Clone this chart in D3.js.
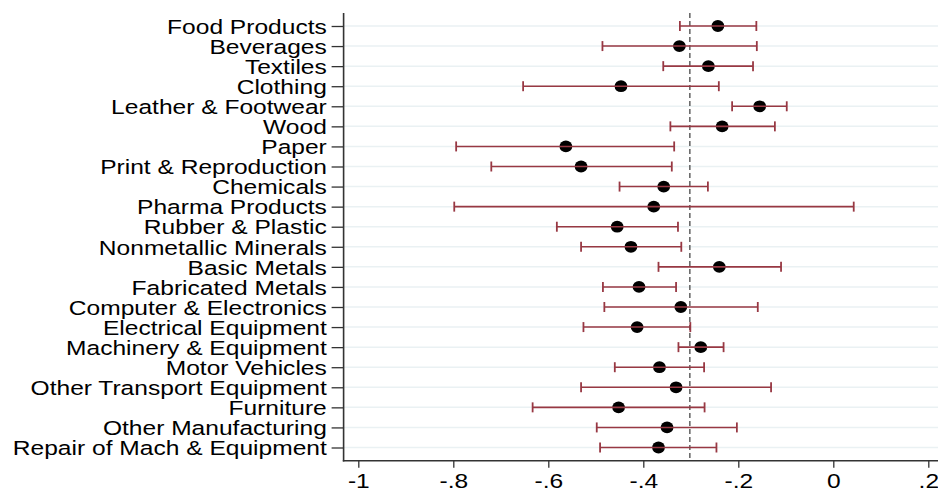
<!DOCTYPE html>
<html>
<head>
<meta charset="utf-8">
<script src="https://cdn.jsdelivr.net/npm/d3@7"></script>
<style>
	body { margin: 0; background: #fff; }
	svg { display: block; }
</style>
</head>
<body>
<div id="chart"></div>
<script>
var industries = [
	'Food Products', 'Beverages', 'Textiles', 'Clothing', 'Leather & Footwear',
	'Wood', 'Paper', 'Print & Reproduction', 'Chemicals', 'Pharma Products',
	'Rubber & Plastic', 'Nonmetallic Minerals', 'Basic Metals', 'Fabricated Metals',
	'Computer & Electronics', 'Electrical Equipment', 'Machinery & Equipment',
	'Motor Vehicles', 'Other Transport Equipment', 'Furniture',
	'Other Manufacturing', 'Repair of Mach & Equipment'
];
var estimate = [-0.243, -0.324, -0.263, -0.447, -0.155, -0.234, -0.563, -0.531, -0.357, -0.378, -0.455,
	-0.426, -0.240, -0.409, -0.321, -0.413, -0.279, -0.366, -0.331, -0.452, -0.350, -0.368];
var lower = [-0.323, -0.486, -0.358, -0.653, -0.213, -0.343, -0.794, -0.720, -0.450, -0.798, -0.582,
	-0.531, -0.368, -0.485, -0.482, -0.526, -0.326, -0.460, -0.531, -0.633, -0.498, -0.491];
var upper = [-0.162, -0.161, -0.169, -0.241, -0.098, -0.123, -0.335, -0.340, -0.264, 0.043, -0.327,
	-0.320, -0.110, -0.331, -0.159, -0.301, -0.231, -0.272, -0.131, -0.271, -0.203, -0.246];
var refLine = -0.302;
var xTicks = [-1, -0.8, -0.6, -0.4, -0.2, 0, 0.2];

var width = 938, height = 489;
var plotLeft = 343.6, plotRight = 938, plotTop = 13, plotBottom = 460.7;
var stretch = 1.26; // text in the original is a bit wider than tall
var fontSize = '19.5px';
var fontFamily = '"Liberation Sans", Arial, Helvetica, sans-serif';
var barColor = '#983843';

var svg = d3.select('#chart').append('svg')
	.attr('width', width)
	.attr('height', height);

var x = d3.scaleLinear().domain([-1, 0.2]).range([358.3, 928.3]);
var y = d3.scalePoint().domain(industries).range([26, 447.5]);

/* grid lines */
svg.append('g')
	.selectAll('line')
	.data(industries)
	.enter().append('line')
	.attr('x1', plotLeft)
	.attr('x2', plotRight)
	.attr('y1', function(d) { return y(d); })
	.attr('y2', function(d) { return y(d); })
	.attr('stroke', '#eaf1f3')
	.attr('stroke-width', 1.5);

/* reference line */
svg.append('line')
	.attr('x1', x(refLine))
	.attr('x2', x(refLine))
	.attr('y1', plotTop)
	.attr('y2', plotBottom)
	.attr('stroke', '#555')
	.attr('stroke-width', 1.4)
	.attr('stroke-dasharray', '5,3');

/* points and confidence intervals */
var rows = svg.append('g')
	.selectAll('g')
	.data(industries)
	.enter().append('g')
	.attr('transform', function(d) { return 'translate(0,' + y(d) + ')'; });

rows.append('ellipse')
	.attr('cx', function(d, i) { return x(estimate[i]); })
	.attr('cy', 0)
	.attr('rx', 6.4)
	.attr('ry', 5.9)
	.attr('fill', '#000');

rows.append('line')
	.attr('x1', function(d, i) { return x(lower[i]); })
	.attr('x2', function(d, i) { return x(upper[i]); })
	.attr('y1', 0).attr('y2', 0)
	.attr('stroke', barColor)
	.attr('stroke-width', 1.6);

rows.selectAll('line.cap')
	.data(function(d, i) { return [lower[i], upper[i]]; })
	.enter().append('line')
	.attr('class', 'cap')
	.attr('x1', function(v) { return x(v); })
	.attr('x2', function(v) { return x(v); })
	.attr('y1', -5).attr('y2', 5)
	.attr('stroke', barColor)
	.attr('stroke-width', 1.8);

/* axes - Stata style labels: -1 -.8 ... 0 .2 */
function fmt(v) {
	if (v === 0) return '0';
	return (v < 0 ? '-' : '') + String(Math.abs(v)).replace(/^0/, '');
}

var xAxis = svg.append('g')
	.attr('transform', 'translate(0,' + plotBottom + ')')
	.call(d3.axisBottom(x).tickValues(xTicks).tickSize(7).tickFormat(fmt));
xAxis.select('.domain').remove();
xAxis.selectAll('line').attr('stroke', '#333').attr('stroke-width', 1.3);
xAxis.selectAll('text')
	.attr('y', 27)
	.attr('dy', 0)
	.attr('transform', 'scale(' + stretch + ',1)')
	.attr('fill', '#000')
	.style('font-size', fontSize)
	.style('font-family', fontFamily);

var yAxis = svg.append('g')
	.attr('transform', 'translate(' + plotLeft + ',0)')
	.call(d3.axisLeft(y).tickSize(12));
yAxis.select('.domain').remove();
yAxis.selectAll('line').attr('stroke', '#333').attr('stroke-width', 1.3);
yAxis.selectAll('text')
	.attr('x', 0)
	.attr('dy', '0.37em')
	.attr('transform', 'translate(-16.8,0) scale(' + stretch + ',1)')
	.attr('fill', '#000')
	.style('font-size', fontSize)
	.style('font-family', fontFamily);

svg.append('line')
	.attr('x1', plotLeft).attr('x2', plotLeft)
	.attr('y1', plotTop).attr('y2', plotBottom + 0.7)
	.attr('stroke', '#333')
	.attr('stroke-width', 1.6);
svg.append('line')
	.attr('x1', plotLeft - 0.8).attr('x2', plotRight)
	.attr('y1', plotBottom).attr('y2', plotBottom)
	.attr('stroke', '#333')
	.attr('stroke-width', 1.6);
</script>
</body>
</html>
